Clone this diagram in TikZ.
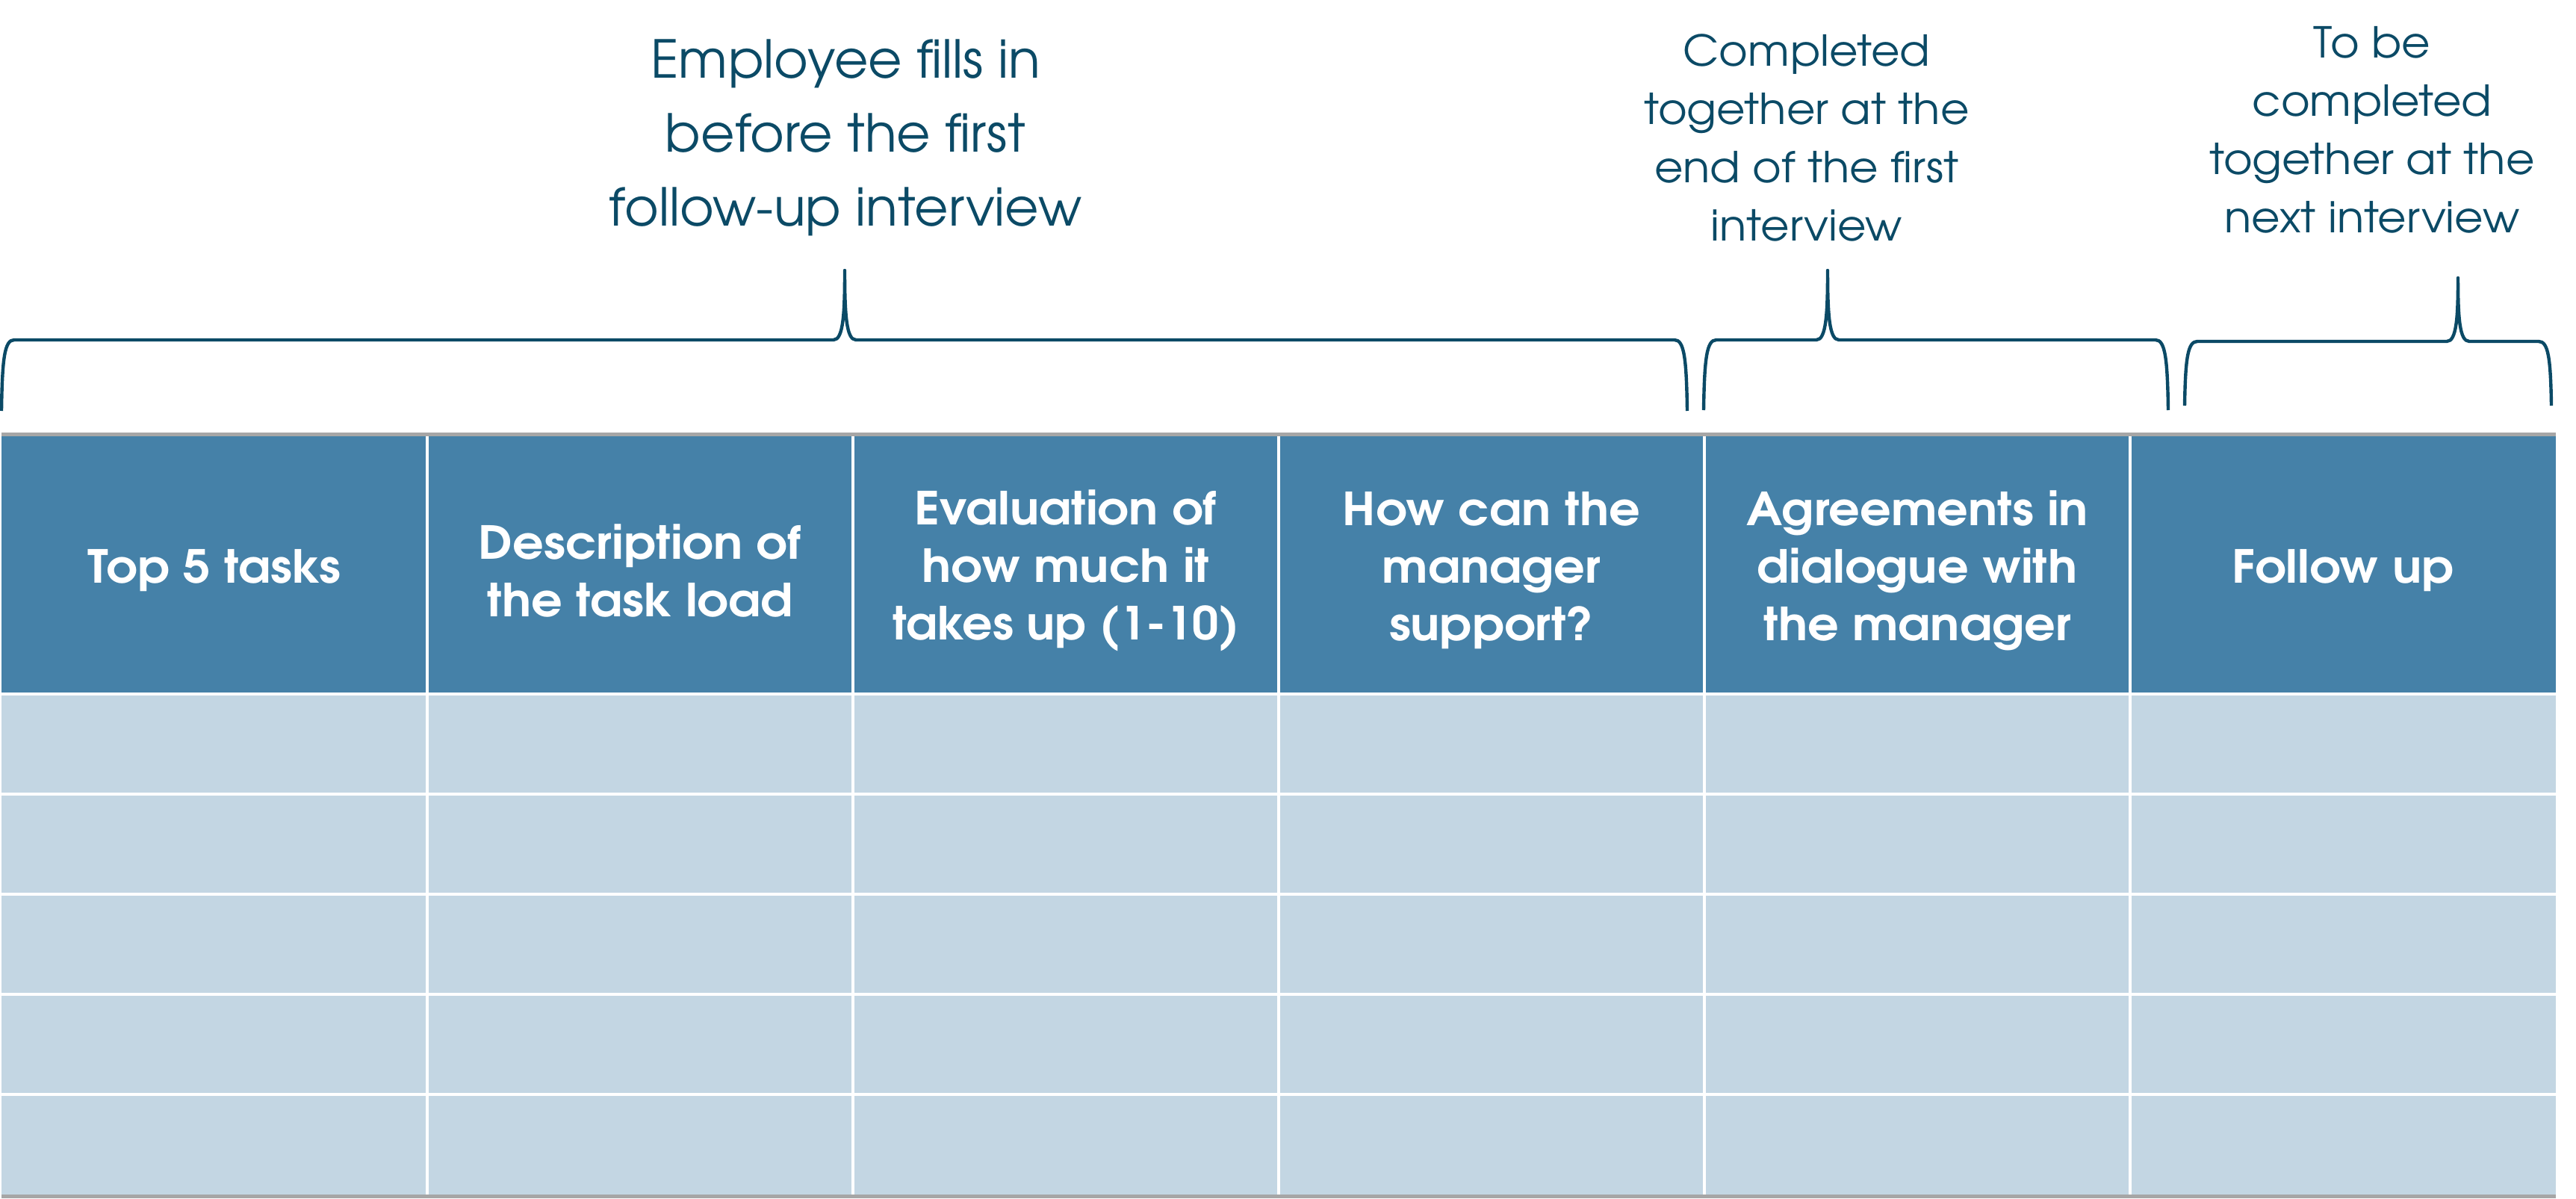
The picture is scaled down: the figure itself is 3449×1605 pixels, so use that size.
\documentclass[tikz,border=0pt]{standalone}
\usepackage{fontspec}
\setmainfont{TeX Gyre Adventor}
\newfontfamily\smallfont[FakeStretch=1.04]{TeX Gyre Adventor}
\newfontfamily\hdrfont[FakeStretch=1.07]{TeX Gyre Adventor}
\definecolor{hdr}{RGB}{69,129,168}
\definecolor{bodyc}{RGB}{195,214,227}
\definecolor{darkc}{RGB}{11,74,102}
\definecolor{grayl}{RGB}{166,166,166}
\tikzset{
  bigl/.style={inner sep=0pt, align=center, text=darkc, font=\fontsize{35}{49.5}\selectfont},
  smalll/.style={inner sep=0pt, align=center, text=darkc, font=\smallfont\fontsize{28.5}{39}\selectfont},
  hdrtxt/.style={inner sep=0pt, align=center, text=white, font=\hdrfont\fontsize{30.5}{38.5}\selectfont\bfseries},
  bracel/.style={draw=darkc, line width=2.2pt, line join=round},
  sepl/.style={draw=white, line width=2pt},
  grayline/.style={draw=grayl, line width=2.5pt}
}
\begin{document}
\begin{tikzpicture}[x=0.5pt,y=-0.5pt]
\useasboundingbox (0,0) rectangle (3449,1605);
\fill[white] (0,0) rectangle (3449,1605);
% table cells
\foreach \c in {0,...,5} {
  \fill[hdr] (2+570*\c,584) rectangle (572+570*\c,929);
  \foreach \r in {0,...,4}
    \fill[bodyc] (2+570*\c,929+134*\r) rectangle (572+570*\c,1063+134*\r);
}
% white separators
\foreach \c in {1,...,5}
  \draw[sepl] (2+570*\c,584) -- (2+570*\c,1599);
\foreach \r in {0,...,4}
  \draw[sepl] (2,929+134*\r) -- (3422,929+134*\r);
% gray rules
\draw[grayline] (2,581.5) -- (3422,581.5);
\draw[grayline] (2,1601.5) -- (3422,1601.5);
% header texts
\node[hdrtxt] (h1) at (287,764) {Top 5 tasks};
\node[hdrtxt] (h2) at (857,764) {Description of\\the task load};
\node[hdrtxt] (h3) at (1427,764) {Evaluation of\\how much it\\\scalebox{0.97}[1]{takes up (1-10)}};
\node[hdrtxt] (h4) at (1997,764) {How can the\\manager\\support?};
\node[hdrtxt] (h5) at (2567,764) {Agreements in\\dialogue with\\the manager};
\node[hdrtxt] (h6) at (3137,764) {Follow up};
% labels
\node[bigl] (l1) at (1132,184) {Employee fills in\\before the first\\follow-up interview};
\node[smalll] (l2) at (2419,184) {Completed\\together at the\\end of the first\\interview};
\node[smalll] (l3) at (3176,174) {To be\\completed\\together at the\\next interview};
% braces
\draw[bracel] (2,550) .. controls (3,480) and (6,455) .. (19,455) -- (1116,455)
  .. controls (1129,455) and (1131,420) .. (1131,362)
  .. controls (1131,420) and (1133,455) .. (1146,455) -- (2242,455)
  .. controls (2255,455) and (2258,480) .. (2259,550);
\draw[bracel] (2281,549) .. controls (2282,480) and (2285,455) .. (2298,455) -- (2432,455)
  .. controls (2445,455) and (2447,420) .. (2447,362)
  .. controls (2447,420) and (2449,455) .. (2462,455) -- (2886,455)
  .. controls (2899,455) and (2902,480) .. (2903,549);
\draw[bracel] (2925,543) .. controls (2926,480) and (2929,457) .. (2942,457) -- (3276,457)
  .. controls (3289,457) and (3291,425) .. (3291,372)
  .. controls (3291,425) and (3293,457) .. (3306,457) -- (3399,457)
  .. controls (3412,457) and (3415,480) .. (3416,543);
\end{tikzpicture}
\end{document}
